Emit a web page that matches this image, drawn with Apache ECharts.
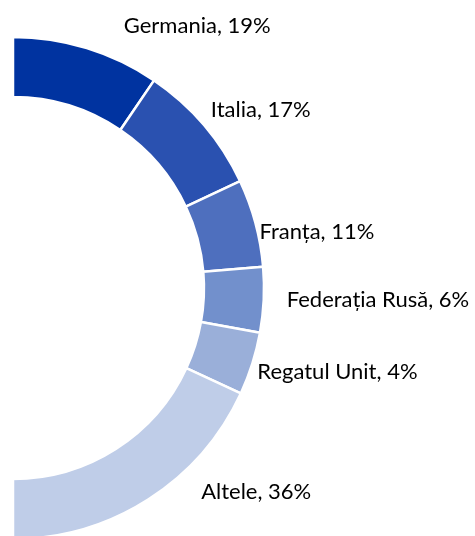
<!DOCTYPE html>
<html lang="ro">
<head>
<meta charset="utf-8">
<title>Pie</title>
<style>
  html, body { margin: 0; padding: 0; background: #fff; }
  #chart { width: 475px; height: 536px; }
</style>
</head>
<body>
<div id="chart"></div>
<script src="https://cdn.jsdelivr.net/npm/echarts@6/dist/echarts.min.js"></script>
<script>
// tari si ponderi
var countries = ['Germania', 'Italia', 'Franța', 'Federația Rusă', 'Regatul Unit', 'Altele'];
var sliceValues = [19, 17, 11.3, 8.4, 8.1, 36.2];   // marimea felie (in jumatatea de cerc)
var shareLabels = ['19%', '17%', '11%', '6%', '4%', '36%'];
var colors = ['#0033a0', '#2a51b0', '#4e6fbe', '#7290cc', '#9aafd9', '#bfcde8'];

// mici ajustari pentru etichete [dx, dy]
var labelShift = [[30, -22], [0, -15], [-3, 9], [16, 0], [-2, 8], [46, -8]];

var chart = echarts.init(document.getElementById('chart'));

var data = countries.map(function (c, i) {
    return {
        name: c,
        value: sliceValues[i],
        itemStyle: { color: colors[i] }
    };
});

chart.setOption({
    animation: false,
    series: [{
        type: 'pie',
        center: [13, 288],
        radius: [191, 251],
        startAngle: 90,
        endAngle: -90,
        clockwise: true,
        avoidLabelOverlap: false,
        itemStyle: { borderColor: '#fff', borderWidth: 2.5 },
        label: {
            show: true,
            position: 'outside',
            color: '#000',
            fontFamily: 'Lato',
            fontSize: 22,
            formatter: function (p) {
                return p.name + ', ' + shareLabels[p.dataIndex];
            }
        },
        labelLine: { show: false, length: 0, length2: 2 },
        labelLayout: function (p) {
            var s = labelShift[p.dataIndex];
            return { dx: s[0], dy: s[1] };
        },
        emphasis: { disabled: true },
        data: data
    }]
});
</script>
</body>
</html>
